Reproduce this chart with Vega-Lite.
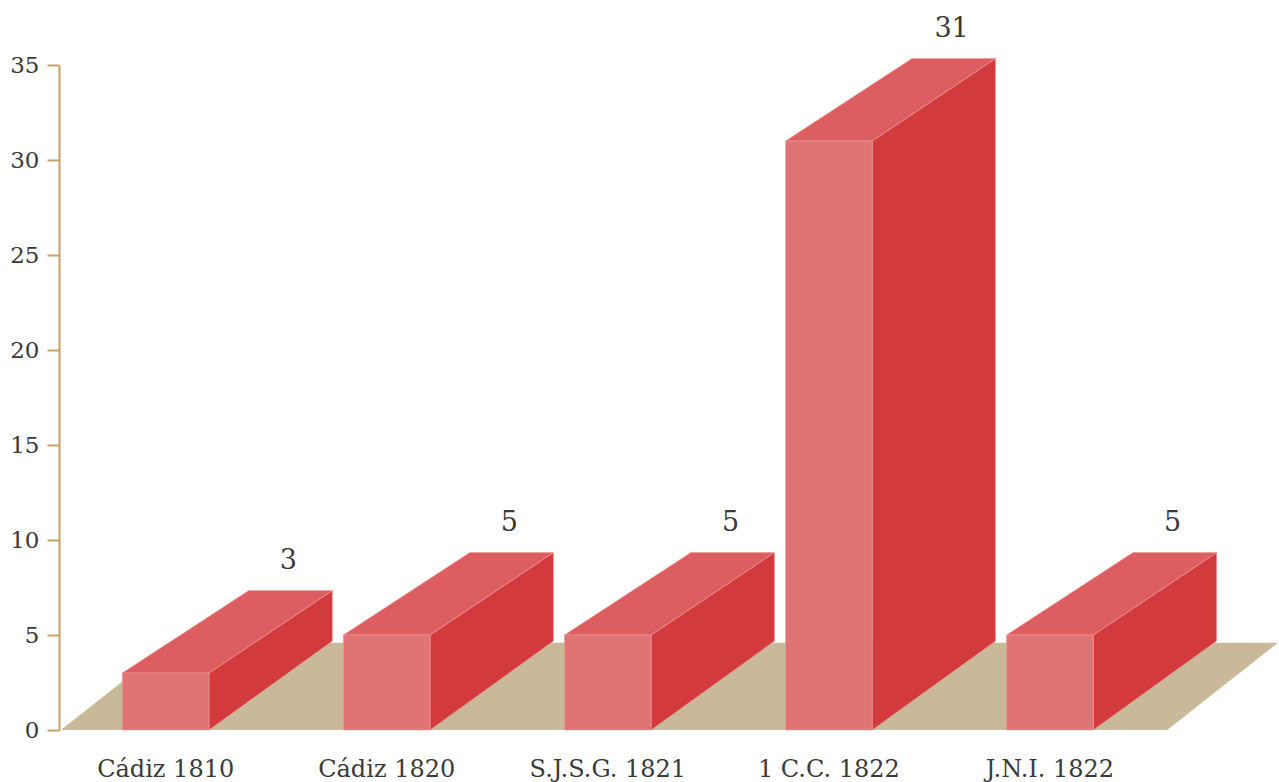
{
  "$schema": "https://vega.github.io/schema/vega-lite/v6.json",
  "width": 1212,
  "height": 665,
  "autosize": "none",
  "padding": {"left": 59, "top": 65, "right": 8, "bottom": 52},
  "background": "#ffffff",
  "config": {"view": {"stroke": null}, "font": "DejaVu Serif"},
  "data": {
    "values": [
      {"label": "Cádiz 1810", "value": 3},
      {"label": "Cádiz 1820", "value": 5},
      {"label": "S.J.S.G. 1821", "value": 5},
      {"label": "1 C.C. 1822", "value": 31},
      {"label": "J.N.I. 1822", "value": 5}
    ]
  },
  "transform": [
    {"window": [{"op": "row_number", "as": "i"}]},
    {"calculate": "[0, 1]", "as": "e"},
    {"flatten": ["e"]}
  ],
  "layer": [
    {
      "transform": [
        {"aggregate": [{"op": "min", "field": "i", "as": "imin"}, {"op": "max", "field": "i", "as": "imax"}], "groupby": ["e"]},
        {"calculate": "datum.e * 4.59", "as": "fy"},
        {"calculate": "datum.imin - 0.474 + datum.e * 0.501", "as": "fx0"},
        {"calculate": "datum.imax + 0.530 + datum.e * 0.501", "as": "fx1"}
      ],
      "mark": {"type": "area", "orient": "horizontal", "color": "#c9b998", "clip": false},
      "encoding": {
        "y": {
          "field": "fy",
          "type": "quantitative",
          "scale": {"domain": [0, 35], "nice": false, "zero": true},
          "axis": {
            "values": [0, 5, 10, 15, 20, 25, 30, 35],
            "grid": false,
            "title": null,
            "domainColor": "#c9a068",
            "domainWidth": 2,
            "tickColor": "#c9a068",
            "tickWidth": 2,
            "tickSize": 12,
            "labelFont": "DejaVu Serif",
            "labelFontSize": 23,
            "labelColor": "#3a3a3a",
            "labelPadding": 8
          }
        },
        "x": {
          "field": "fx0",
          "type": "quantitative",
          "scale": {"domain": [0.5175, 6.0], "nice": false, "zero": false},
          "axis": null
        },
        "x2": {"field": "fx1"}
      }
    },
    {
      "transform": [
        {"calculate": "datum.i + 0.196 + datum.e * 0.558", "as": "sx"},
        {"calculate": "datum.e * 4.68", "as": "sy0"},
        {"calculate": "datum.value + datum.e * 4.34", "as": "sy1"}
      ],
      "mark": {"type": "area", "color": "#d33a3d", "clip": false, "stroke": "#ee9a9a", "strokeWidth": 0.6},
      "encoding": {
        "x": {"field": "sx", "type": "quantitative"},
        "y": {"field": "sy1", "type": "quantitative", "stack": null},
        "y2": {"field": "sy0"},
        "detail": {"field": "label"}
      }
    },
    {
      "transform": [
        {"calculate": "datum.value + datum.e * 4.34", "as": "ty"},
        {"calculate": "datum.i - 0.196 + datum.e * 0.572", "as": "tx0"},
        {"calculate": "datum.i + 0.196 + datum.e * 0.558", "as": "tx1"}
      ],
      "mark": {"type": "area", "orient": "horizontal", "color": "#dc5e60", "clip": false, "stroke": "#ee9a9a", "strokeWidth": 0.6},
      "encoding": {
        "y": {"field": "ty", "type": "quantitative", "stack": null},
        "x": {"field": "tx0", "type": "quantitative"},
        "x2": {"field": "tx1"},
        "detail": {"field": "label"}
      }
    },
    {
      "transform": [
        {"filter": "datum.e == 0"},
        {"calculate": "datum.i - 0.196", "as": "fx0"},
        {"calculate": "datum.i + 0.196", "as": "fx1"}
      ],
      "mark": {"type": "rect", "color": "#e07474", "stroke": "#ee9a9a", "strokeWidth": 0.6},
      "encoding": {
        "x": {"field": "fx0", "type": "quantitative"},
        "x2": {"field": "fx1"},
        "y": {"field": "value", "type": "quantitative"},
        "y2": {"datum": 0}
      }
    },
    {
      "transform": [
        {"filter": "datum.e == 1"},
        {"calculate": "datum.i + 0.555", "as": "lx"},
        {"calculate": "datum.value + 4.34", "as": "ly"}
      ],
      "mark": {"type": "text", "font": "DejaVu Serif", "fontSize": 27, "color": "#3a3a3a", "baseline": "alphabetic", "align": "center", "dy": -22},
      "encoding": {
        "x": {"field": "lx", "type": "quantitative"},
        "y": {"field": "ly", "type": "quantitative"},
        "text": {"field": "value", "type": "quantitative"}
      }
    },
    {
      "transform": [
        {"filter": "datum.e == 0"}
      ],
      "mark": {"type": "text", "font": "DejaVu Serif", "fontSize": 24, "color": "#3a3a3a", "baseline": "alphabetic", "align": "center", "dy": 47},
      "encoding": {
        "x": {"field": "i", "type": "quantitative"},
        "y": {"datum": 0},
        "text": {"field": "label", "type": "nominal"}
      }
    }
  ]
}
